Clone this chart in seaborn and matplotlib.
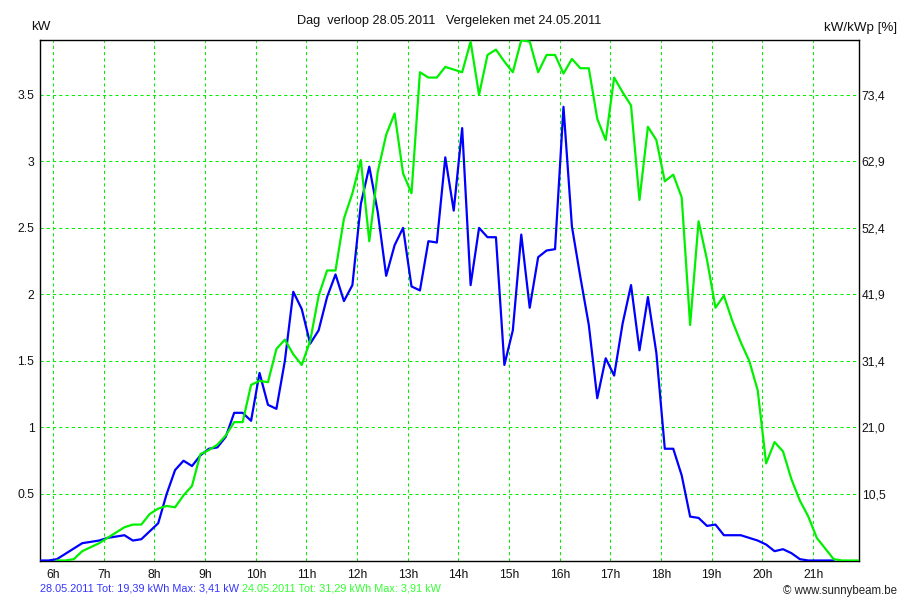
import numpy as np
import pandas as pd
import seaborn as sns
import matplotlib.pyplot as plt

# Sunny Beam day log, one sample every 10 minutes from about 5:44
start_hour = 5.74
step_hour = 1 / 6

kw_day = [0, 0, 0.01, 0.05, 0.09, 0.13, 0.14, 0.15, 0.17, 0.18,
          0.19, 0.15, 0.16, 0.22, 0.28, 0.50, 0.68, 0.75, 0.71, 0.79,
          0.84, 0.85, 0.93, 1.11, 1.11, 1.05, 1.41, 1.17, 1.14, 1.50,
          2.02, 1.89, 1.63, 1.73, 1.98, 2.15, 1.95, 2.07, 2.68, 2.96,
          2.62, 2.14, 2.37, 2.50, 2.06, 2.03, 2.40, 2.39, 3.03, 2.63,
          3.25, 2.07, 2.50, 2.43, 2.43, 1.47, 1.73, 2.45, 1.90, 2.28,
          2.33, 2.34, 3.41, 2.51, 2.13, 1.77, 1.22, 1.52, 1.39, 1.78,
          2.07, 1.58, 1.98, 1.56, 0.84, 0.84, 0.64, 0.33, 0.32, 0.26,
          0.27, 0.19, 0.19, 0.19, 0.17, 0.15, 0.12, 0.07, 0.085, 0.055,
          0.01, 0, 0, 0, 0, np.nan, np.nan, np.nan]

kw_compare = [np.nan, np.nan, 0, 0, 0.01, 0.07, 0.10, 0.13, 0.17, 0.21,
              0.25, 0.27, 0.27, 0.35, 0.39, 0.41, 0.40, 0.49, 0.56, 0.80,
              0.83, 0.87, 0.94, 1.04, 1.04, 1.32, 1.35, 1.34, 1.59, 1.66,
              1.55, 1.47, 1.65, 1.99, 2.18, 2.18, 2.57, 2.76, 3.01, 2.40,
              2.92, 3.20, 3.36, 2.91, 2.76, 3.67, 3.63, 3.63, 3.71, 3.69,
              3.67, 3.90, 3.50, 3.80, 3.84, 3.75, 3.67, 3.91, 3.90, 3.67,
              3.80, 3.80, 3.66, 3.77, 3.70, 3.70, 3.32, 3.16, 3.63, 3.52,
              3.42, 2.71, 3.26, 3.16, 2.85, 2.90, 2.73, 1.77, 2.55, 2.26,
              1.90, 1.99, 1.80, 1.64, 1.50, 1.28, 0.73, 0.89, 0.82, 0.61,
              0.45, 0.33, 0.17, 0.09, 0.01, 0, 0, 0]

hour_ticks = list(range(6, 22))
hour_labels = [f"{h}h" for h in hour_ticks]
kw_ticks = [0.5, 1, 1.5, 2, 2.5, 3, 3.5]
kw_labels = ["0.5", "1", "1.5", "2", "2.5", "3", "3.5"]
pct_labels = ["10,5", "21,0", "31,4", "41,9", "52,4", "62,9", "73,4"]

day_name = "28.05.2011"
compare_name = "24.05.2011"

n = len(kw_day)
hours = start_hour + step_hour * np.arange(n)
df = pd.concat([
    pd.DataFrame({"uur": hours, "kW": kw_day, "dag": day_name}),
    pd.DataFrame({"uur": hours, "kW": kw_compare, "dag": compare_name}),
], ignore_index=True)

sns.set_style("white")
plt.rcParams["font.family"] = ["Liberation Sans", "DejaVu Sans"]
plt.rcParams["font.size"] = 8.7

fig = plt.figure(figsize=(9, 6), dpi=100)
ax = fig.add_axes([40 / 900, 1 - 560.5 / 600, 819 / 900, 520.2 / 600])

grid_kw = dict(color="#00f000", lw=0.75, ls=(0, (3, 3)), zorder=1)
for h in hour_ticks:
    ax.axvline(h, **grid_kw)
for k in kw_ticks:
    ax.axhline(k, **grid_kw)

sns.lineplot(data=df, x="uur", y="kW", hue="dag", estimator=None, sort=False,
             palette={day_name: "#0000ff", compare_name: "#00f000"},
             hue_order=[day_name, compare_name], lw=1.6, legend=False,
             ax=ax, zorder=3)

ax.set_xlim(start_hour, start_hour + step_hour * (n - 1))
ax.set_ylim(0, 3.91)
ax.set_xticks(hour_ticks, hour_labels)
ax.set_yticks(kw_ticks, kw_labels)
ax.tick_params(length=0, labelsize=8.7, colors="#111111")
ax.tick_params(axis="x", pad=6)
ax.tick_params(axis="y", pad=4)
ax.set_xlabel("")
ax.set_ylabel("")
for s in ax.spines.values():
    s.set_color("black")
    s.set_linewidth(1)

ax2 = ax.twinx()
ax2.set_ylim(ax.get_ylim())
ax2.set_yticks(kw_ticks, pct_labels)
ax2.tick_params(length=0, labelsize=8.7, pad=2, colors="#111111")
for s in ax2.spines.values():
    s.set_visible(False)

fig.text(449.5 / 900, 1 - 20.7 / 600, "Dag  verloop 28.05.2011   Vergeleken met 24.05.2011",
         ha="center", va="center", fontsize=9.2, color="#111111")
fig.text(31 / 900, 1 - 27 / 600, "kW", ha="left", va="center", fontsize=9.6, color="#111111")
fig.text(897 / 900, 1 - 28.3 / 600, "kW/kWp [%]", ha="right", va="center",
         fontsize=9.6, color="#111111")

# footer: two coloured summaries on one line
t1 = fig.text(40 / 900, 1 - 588.3 / 600, "28.05.2011 Tot: 19,39 kWh Max: 3,41 kW ",
              ha="left", va="center", fontsize=7.8, color="#3535ff")
fig.canvas.draw()
x_end = t1.get_window_extent().x1 / fig.bbox.width
fig.text(x_end, 1 - 588.3 / 600, "24.05.2011 Tot: 31,29 kWh Max: 3,91 kW",
         ha="left", va="center", fontsize=7.8, color="#33ff33")
fig.text(897 / 900, 1 - 590.7 / 600, "© www.sunnybeam.be", ha="right", va="center",
         fontsize=8.3, color="#222222")

fig.savefig("out.png", dpi=100)
